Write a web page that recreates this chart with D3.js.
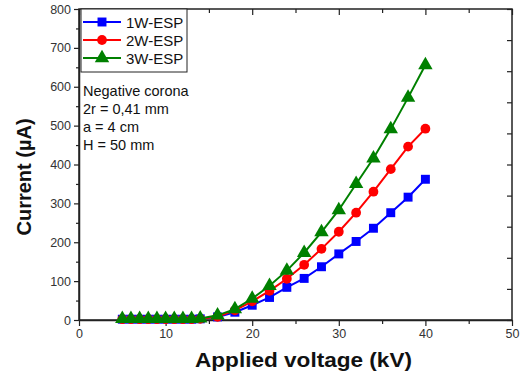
<!DOCTYPE html>
<html>
<head>
<meta charset="utf-8">
<script src="https://cdn.jsdelivr.net/npm/d3@7"></script>
<style>
  body { margin: 0; background: #fff; }
  text { font-family: Arial, "Liberation Sans", sans-serif; }
</style>
</head>
<body>
<div id="chart"></div>
<script>
// data
const voltage = [5, 6, 7, 8, 9, 10, 11, 12, 13, 14, 16, 18, 20, 22, 24, 26, 28, 30, 32, 34, 36, 38, 40];
const current1W = [2, 2, 2, 2, 2, 2, 2, 2, 2, 3, 8, 20, 38, 58, 84, 107, 137, 170, 202, 236, 276, 316, 362];
const current2W = [2, 2, 2, 2, 2, 2, 2, 2, 2, 3, 8, 25, 48, 75, 106, 142, 183, 227, 276, 330, 388, 446, 492];
const current3W = [3, 3, 3, 3, 3, 3, 3, 3, 3, 4, 12, 28, 55, 88, 127, 173, 226, 283, 350, 416, 491, 572, 656];
const seriesNames = ["1W-ESP", "2W-ESP", "3W-ESP"];
const seriesColors = ["#0000ff", "#ff0000", "#008000"];
const seriesSymbols = [d3.symbolSquare, d3.symbolCircle, d3.symbolTriangle];
const notes = ["Negative corona", "2r = 0,41 mm", "a = 4 cm", "H = 50 mm"];
const xTicks = [0, 10, 20, 30, 40, 50];
const yTicks = [0, 100, 200, 300, 400, 500, 600, 700, 800];

const W = 521, H = 378;
const margin = { top: 9, right: 9, bottom: 58, left: 79 };
const width = W - margin.left - margin.right;
const height = H - margin.top - margin.bottom;

const svg = d3.select("#chart").append("svg")
  .attr("width", W)
  .attr("height", H);

const g = svg.append("g")
  .attr("transform", `translate(${margin.left}, ${margin.top})`);

const x = d3.scaleLinear().domain([0, 50]).range([0, width]);
const y = d3.scaleLinear().domain([0, 800]).range([height, 0]);
const yRight = d3.scaleLinear().domain([0, 10]).range([height, 0]);

const axisColor = "#222";
const symbolSizes = [80, 75, 90];

// frame
g.append("rect")
  .attr("width", width)
  .attr("height", height)
  .attr("fill", "none")
  .attr("stroke", axisColor)
  .attr("stroke-width", 1.5);

// bottom axis (outward ticks)
g.append("g")
  .attr("transform", `translate(0, ${height})`)
  .call(d3.axisBottom(x).tickValues(xTicks).tickSize(6).tickSizeOuter(0).tickPadding(3));
g.append("g")
  .attr("transform", `translate(0, ${height})`)
  .call(d3.axisBottom(x).tickValues(d3.range(5, 50, 10)).tickSize(4).tickFormat(""))
  .call(a => a.select(".domain").remove());

// left axis (outward ticks)
g.append("g")
  .call(d3.axisLeft(y).tickValues(yTicks).tickSize(5).tickSizeOuter(0).tickPadding(3));
g.append("g")
  .call(d3.axisLeft(y).tickValues(d3.range(50, 800, 100)).tickSize(3).tickFormat(""))
  .call(a => a.select(".domain").remove());

// top axis (inward ticks)
g.append("g")
  .call(d3.axisTop(x).tickValues(xTicks).tickSize(-6).tickFormat(""))
  .call(a => a.select(".domain").remove());
g.append("g")
  .call(d3.axisTop(x).tickValues(d3.range(5, 50, 10)).tickSize(-4).tickFormat(""))
  .call(a => a.select(".domain").remove());

// right axis (inward ticks)
g.append("g")
  .attr("transform", `translate(${width}, 0)`)
  .call(d3.axisRight(yRight).ticks(10).tickSize(-5).tickFormat(""))
  .call(a => a.select(".domain").remove());

g.selectAll(".domain").attr("stroke", axisColor).attr("stroke-width", 1.5);
g.selectAll(".tick line").attr("stroke", axisColor).attr("stroke-width", 1.2);
g.selectAll(".tick text")
  .attr("fill", "#333")
  .style("font-size", "12.5px")
  .style("font-family", "Arial, 'Liberation Sans', sans-serif");

// axis titles
svg.append("text")
  .attr("x", 195)
  .attr("y", 367)
  .attr("textLength", 217)
  .attr("lengthAdjust", "spacingAndGlyphs")
  .style("font-size", "20px")
  .style("font-weight", "bold")
  .attr("fill", "#111")
  .text("Applied voltage (kV)");

svg.append("text")
  .attr("transform", `translate(31, 177) rotate(-90)`)
  .attr("text-anchor", "middle")
  .style("font-size", "20px")
  .style("font-weight", "bold")
  .attr("fill", "#111")
  .text("Current (µA)");

// series
const allSeries = [current1W, current2W, current3W];
const line = d3.line()
  .x((d, i) => x(voltage[i]))
  .y(d => y(d));

allSeries.forEach((vals, k) => {
  g.append("path")
    .datum(vals)
    .attr("fill", "none")
    .attr("stroke", seriesColors[k])
    .attr("stroke-width", 2)
    .attr("d", line);
  g.selectAll(`.pt${k}`)
    .data(vals)
    .join("path")
    .attr("class", `pt${k}`)
    .attr("transform", (d, i) => `translate(${x(voltage[i])}, ${y(d)})`)
    .attr("d", d3.symbol().type(seriesSymbols[k]).size(symbolSizes[k]))
    .attr("fill", seriesColors[k]);
});

// legend
const legend = g.append("g").attr("transform", "translate(2, 0)");
legend.append("rect")
  .attr("width", 106)
  .attr("height", 63)
  .attr("fill", "#fff")
  .attr("stroke", axisColor)
  .attr("stroke-width", 1);
seriesNames.forEach((name, k) => {
  const ly = 13 + k * 18;
  legend.append("line")
    .attr("x1", 2).attr("x2", 40)
    .attr("y1", ly).attr("y2", ly)
    .attr("stroke", seriesColors[k])
    .attr("stroke-width", 2);
  legend.append("path")
    .attr("transform", `translate(21, ${ly})`)
    .attr("d", d3.symbol().type(seriesSymbols[k]).size(symbolSizes[k]))
    .attr("fill", seriesColors[k]);
  legend.append("text")
    .attr("x", 45)
    .attr("y", ly + 5.5)
    .style("font-size", "15px")
    .attr("fill", "#111")
    .text(name);
});

// notes
notes.forEach((t, i) => {
  g.append("text")
    .attr("x", 4)
    .attr("y", 87 + i * 18)
    .style("font-size", "14.5px")
    .attr("fill", "#111")
    .text(t);
});
</script>
</body>
</html>
